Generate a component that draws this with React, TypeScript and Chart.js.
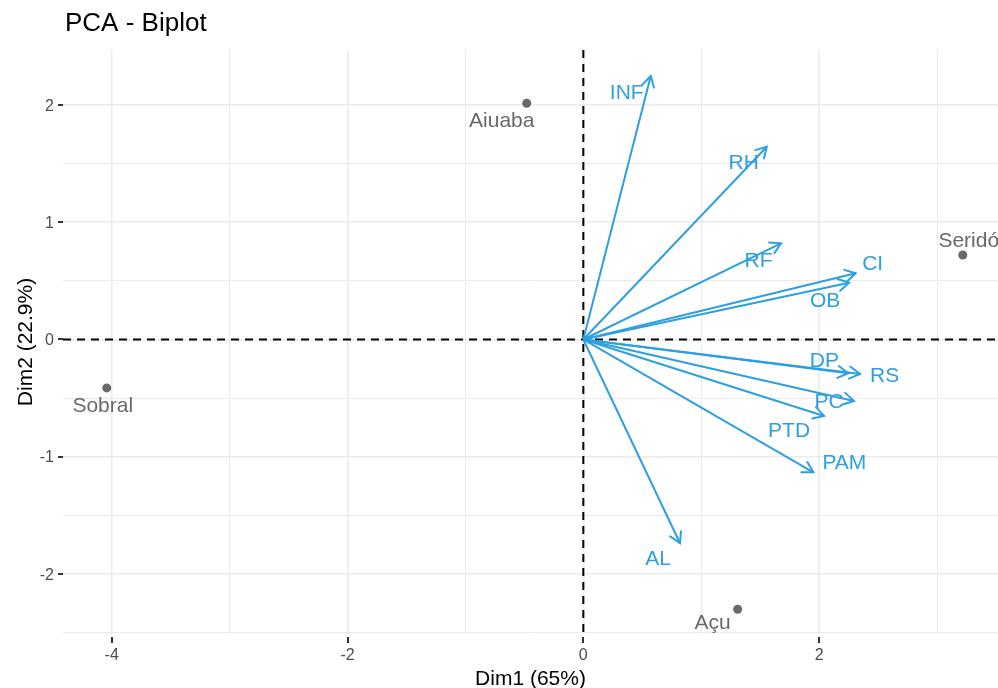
import { useEffect, useRef } from "react";
import { Chart, registerables } from "chart.js";

Chart.register(...registerables);

// ---- Data ----
const individuals = ["Aiuaba", "Seridó", "Sobral", "Açu"];
const indDim1 = [-0.48, 3.218, -4.042, 1.309];
const indDim2 = [2.015, 0.721, -0.413, -2.301];

const variables = ["INF", "RH", "RF", "CI", "OB", "DP", "RS", "PC", "PTD", "PAM", "AL"];
const varDim1 = [0.572, 1.556, 1.677, 2.31, 2.254, 2.248, 2.347, 2.296, 2.042, 1.951, 0.82];
const varDim2 = [2.247, 1.644, 0.82, 0.565, 0.484, -0.288, -0.294, -0.525, -0.652, -1.133, -1.738];

// tick values
const xTickValues = [-4, -3, -2, -1, 0, 1, 2, 3];
const xMajorTicks = [-4, -2, 0, 2];
const yTickValues = [-2.5, -2, -1.5, -1, -0.5, 0, 0.5, 1, 1.5, 2];
const yMajorTicks = [-2, -1, 0, 1, 2];

// axis limits
const X_MIN = -4.413;
const X_MAX = 3.517;
const Y_MIN = -2.512;
const Y_MAX = 2.469;

// label placement (pixel offsets of text cap-centre from anchor; repel-like layout)
const varLabelOffsets: [number, number][] = [
  [-24, 15.5], [-23, 15], [-22.5, 16], [17, -11], [-24, 17], [-24, -14],
  [24.5, 1], [-25, -1], [-35, 14], [31, -11], [-22, 14],
];
const indLabelOffsets: [number, number][] = [[-25, 16], [6, -15], [-4, 17], [-25, 12.5]];

const FONT = '"Liberation Sans", Arial, Helvetica, sans-serif';
const VAR_COLOR = "#2E9FDF";
const IND_COLOR = "#696969";

export default function App() {
  const ref = useRef<HTMLCanvasElement>(null);

  useEffect(() => {
    if (!ref.current) return;

    const biplotPlugin = {
      id: "biplot",
      beforeDatasetsDraw(chart: any) {
        const { ctx, chartArea: a, scales } = chart;
        const x0 = scales.x.getPixelForValue(0);
        const y0 = scales.y.getPixelForValue(0);
        ctx.save();
        ctx.strokeStyle = "#000";
        ctx.lineWidth = 2;
        ctx.setLineDash([8, 6]);
        ctx.beginPath();
        ctx.moveTo(a.left, y0);
        ctx.lineTo(a.right, y0);
        ctx.moveTo(x0, a.top);
        ctx.lineTo(x0, a.bottom);
        ctx.stroke();
        ctx.restore();
      },
      afterDatasetsDraw(chart: any) {
        const { ctx, scales } = chart;
        const sx = scales.x, sy = scales.y;
        const ox = sx.getPixelForValue(0);
        const oy = sy.getPixelForValue(0);
        ctx.save();
        // arrow heads
        ctx.strokeStyle = VAR_COLOR;
        ctx.lineWidth = 2;
        ctx.lineCap = "round";
        const headLen = 12;
        const headAng = Math.PI / 6;
        variables.forEach((_, i) => {
          const tx = sx.getPixelForValue(varDim1[i]);
          const ty = sy.getPixelForValue(varDim2[i]);
          const ang = Math.atan2(ty - oy, tx - ox);
          ctx.beginPath();
          ctx.moveTo(tx - headLen * Math.cos(ang - headAng), ty - headLen * Math.sin(ang - headAng));
          ctx.lineTo(tx, ty);
          ctx.lineTo(tx - headLen * Math.cos(ang + headAng), ty - headLen * Math.sin(ang + headAng));
          ctx.stroke();
        });
        // labels
        const capH = 0.716 * 21;
        ctx.font = `21px ${FONT}`;
        ctx.textAlign = "center";
        ctx.textBaseline = "alphabetic";
        ctx.fillStyle = VAR_COLOR;
        variables.forEach((name, i) => {
          const tx = sx.getPixelForValue(varDim1[i]);
          const ty = sy.getPixelForValue(varDim2[i]);
          const [dx, dy] = varLabelOffsets[i];
          ctx.fillText(name, tx + dx, ty + dy + capH / 2);
        });
        ctx.fillStyle = IND_COLOR;
        individuals.forEach((name, i) => {
          const px = sx.getPixelForValue(indDim1[i]);
          const py = sy.getPixelForValue(indDim2[i]);
          const [dx, dy] = indLabelOffsets[i];
          ctx.fillText(name, px + dx, py + dy + capH / 2);
        });
        ctx.restore();
      },
      afterDraw(chart: any) {
        const { ctx, chartArea: a, scales } = chart;
        const sx = scales.x, sy = scales.y;
        ctx.save();
        // tick marks
        ctx.strokeStyle = "#333333";
        ctx.lineWidth = 2;
        xMajorTicks.forEach((v) => {
          const px = Math.round(sx.getPixelForValue(v));
          ctx.beginPath();
          ctx.moveTo(px, a.bottom + 3);
          ctx.lineTo(px, a.bottom + 9);
          ctx.stroke();
        });
        yMajorTicks.forEach((v) => {
          const py = Math.round(sy.getPixelForValue(v));
          ctx.beginPath();
          ctx.moveTo(a.left - 5, py);
          ctx.lineTo(a.left, py);
          ctx.stroke();
        });
        // tick labels
        ctx.fillStyle = "#4D4D4D";
        ctx.font = `16px ${FONT}`;
        ctx.textBaseline = "alphabetic";
        ctx.textAlign = "center";
        xMajorTicks.forEach((v) => {
          ctx.fillText(String(v), sx.getPixelForValue(v), a.bottom + 26);
        });
        ctx.textAlign = "right";
        yMajorTicks.forEach((v) => {
          ctx.fillText(String(v), a.left - 9, sy.getPixelForValue(v) + 5.7);
        });
        // axis titles
        ctx.fillStyle = "#000";
        ctx.font = `21px ${FONT}`;
        ctx.textAlign = "center";
        ctx.fillText("Dim1 (65%)", (a.left + a.right) / 2, 685);
        ctx.save();
        ctx.translate(32, (a.top + a.bottom) / 2);
        ctx.rotate(-Math.PI / 2);
        ctx.fillText("Dim2 (22.9%)", 0, 0);
        ctx.restore();
        // title
        ctx.font = `26px ${FONT}`;
        ctx.textAlign = "left";
        ctx.fillText("PCA - Biplot", 65, 31);
        ctx.restore();
      },
    };

    const arrowDatasets = variables.map((name, i) => ({
      label: name,
      data: [{ x: 0, y: 0 }, { x: varDim1[i], y: varDim2[i] }],
      showLine: true,
      borderColor: VAR_COLOR,
      borderWidth: 2,
      pointRadius: 0,
      fill: false,
    }));

    const indDataset = {
      label: "individuals",
      data: individuals.map((_, i) => ({ x: indDim1[i], y: indDim2[i] })),
      showLine: false,
      pointRadius: 4.5,
      pointBackgroundColor: IND_COLOR,
      pointBorderColor: IND_COLOR,
      pointBorderWidth: 0,
    };

    const chart = new Chart(ref.current, {
      type: "scatter",
      data: { datasets: [...arrowDatasets, indDataset] as any },
      options: {
        animation: false,
        responsive: false,
        maintainAspectRatio: false,
        layout: { autoPadding: false, padding: { top: 50, left: 0, right: 0, bottom: 0 } },
        plugins: {
          legend: { display: false },
          tooltip: { enabled: false },
          title: { display: false },
        },
        scales: {
          x: {
            type: "linear",
            min: X_MIN,
            max: X_MAX,
            afterBuildTicks: (s: any) => {
              s.ticks = xTickValues.map((v) => ({ value: v }));
            },
            afterFit: (s: any) => {
              s.height = 54;
            },
            ticks: { display: false },
            border: { display: false },
            grid: {
              drawTicks: false,
              color: "#EBEBEB",
              lineWidth: (c: any) => (xMajorTicks.includes(c.tick?.value) ? 1.6 : 1),
            },
          },
          y: {
            type: "linear",
            min: Y_MIN,
            max: Y_MAX,
            afterBuildTicks: (s: any) => {
              s.ticks = yTickValues.map((v) => ({ value: v }));
            },
            afterFit: (s: any) => {
              s.width = 63;
            },
            ticks: { display: false },
            border: { display: false },
            grid: {
              drawTicks: false,
              color: "#EBEBEB",
              lineWidth: (c: any) => (yMajorTicks.includes(c.tick?.value) ? 1.6 : 1),
            },
          },
        },
      } as any,
      plugins: [biplotPlugin],
    });

    return () => chart.destroy();
  }, []);

  return (
    <div style={{ position: "fixed", left: 0, top: 0, width: 998, height: 688, background: "#fff" }}>
      <canvas ref={ref} width={998} height={688} style={{ display: "block" }} />
    </div>
  );
}
